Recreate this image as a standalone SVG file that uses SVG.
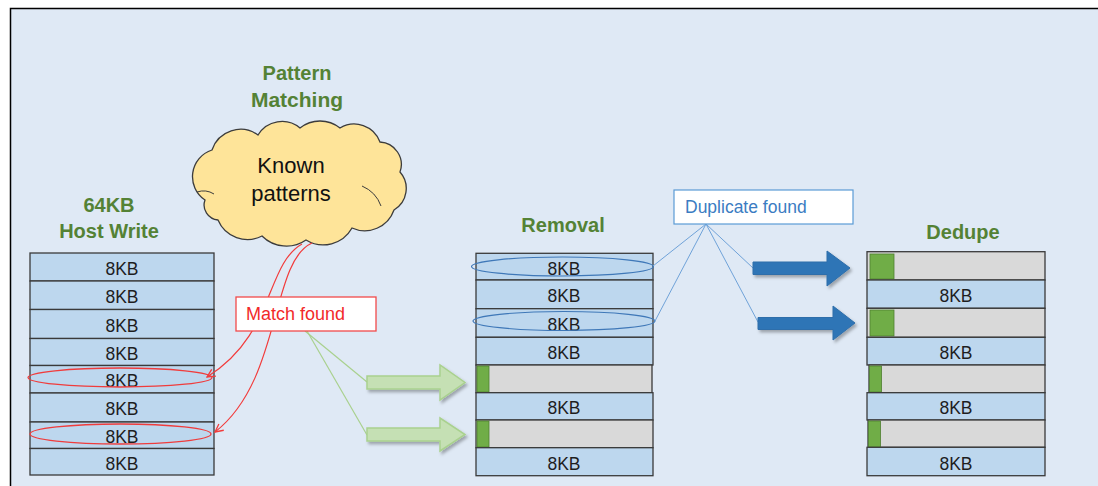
<svg xmlns="http://www.w3.org/2000/svg" width="1098" height="486" viewBox="0 0 1098 486">
  <defs>
    <style>
      .title { font-family: "Liberation Sans", Arial, sans-serif; font-weight: bold; fill: #548235; text-anchor: middle; }
      .cell-blue { fill: #bdd7ee; stroke: #3a3a3a; stroke-width: 1.3; }
      .cell-grey { fill: #d9d9d9; stroke: #3a3a3a; stroke-width: 1.3; }
      .bar { fill: #70ad47; stroke: #4f7f30; stroke-width: 0.8; }
      .kb { font-family: "Liberation Sans", Arial, sans-serif; font-size: 17.5px; fill: #1e1e1e; text-anchor: middle; }
      .red-ring { fill: none; stroke: #f03c3c; stroke-width: 1.3; }
      .blue-ring { fill: none; stroke: #3f78b8; stroke-width: 1.2; }
      .red-link { fill: none; stroke: #f23b3b; stroke-width: 1.2; }
      .green-link { fill: none; stroke: #a9d18e; stroke-width: 1.2; }
      .blue-link { fill: none; stroke: #6fa2d8; stroke-width: 1; }
      .green-arrow { fill: #c5e0b4; stroke: #a9d18e; stroke-width: 1.5; }
      .blue-arrow { fill: #2e75b6; stroke: #2e6eaa; stroke-width: 1; }
    </style>
    <marker id="open-red" viewBox="0 0 10 10" refX="9" refY="5" markerWidth="10" markerHeight="10" markerUnits="userSpaceOnUse" orient="auto">
      <path d="M1,1 L9,5 L1,9" fill="none" stroke="#f23b3b" stroke-width="1.3"/>
    </marker>
    <filter id="soft-shadow" x="-20%" y="-30%" width="150%" height="170%">
      <feDropShadow dx="2" dy="2.5" stdDeviation="1.5" flood-color="#000" flood-opacity="0.3"/>
    </filter>
  </defs>

  <!-- page and framed panel -->
  <rect x="0" y="0" width="1098" height="486" fill="#ffffff"/>
  <rect x="10.5" y="8.5" width="1100" height="490" fill="#dfe9f5" stroke="#000" stroke-width="1.5"/>

  <!-- cloud of known patterns -->
  <g id="known-patterns">
    <text class="title" x="297" y="80" font-size="20">Pattern</text>
    <text class="title" x="297" y="107" font-size="21">Matching</text>
    <path d="M 205 200 A 28 28 0 0 1 212 150 A 30 30 0 0 1 258 135 A 28 28 0 0 1 300 128 A 32 32 0 0 1 340 128 A 27.5 27.5 0 0 1 380 142 A 22.5 22.5 0 0 1 400 172 A 25 25 0 0 1 394 210 A 31 31 0 0 1 352 228 A 33 33 0 0 1 306 240 A 34.5 34.5 0 0 1 262 236 A 32 32 0 0 1 218 220 A 15 15 0 0 1 205 200 Z" fill="#fee499" stroke="#3c3c3c" stroke-width="1.3"/>
    <g fill="none" stroke="#3c3c3c" stroke-width="1">
      <path d="M 197 192 Q 206 189 214 194"/>
      <path d="M 362 186 Q 376 192 381 206"/>
    </g>
    <text font-family="'Liberation Sans', Arial, sans-serif" font-size="22" fill="#111" text-anchor="middle" x="291" y="173">Known</text>
    <text font-family="'Liberation Sans', Arial, sans-serif" font-size="22" fill="#111" text-anchor="middle" x="291" y="201">patterns</text>
  </g>

  <!-- 64KB host write: eight 8KB blocks -->
  <g id="host-write">
    <text class="title" x="109" y="212" font-size="20">64KB</text>
    <text class="title" x="109" y="238" font-size="20">Host Write</text>
    <rect class="cell-blue" x="30" y="253" width="184" height="28"/>
    <rect class="cell-blue" x="30" y="281" width="184" height="28.5"/>
    <rect class="cell-blue" x="30" y="309.5" width="184" height="29"/>
    <rect class="cell-blue" x="30" y="338.5" width="184" height="27"/>
    <rect class="cell-blue" x="30" y="365.5" width="184" height="27.5"/>
    <rect class="cell-blue" x="30" y="393" width="184" height="29"/>
    <rect class="cell-blue" x="30" y="422" width="184" height="26.5"/>
    <rect class="cell-blue" x="30" y="448.5" width="184" height="26.5"/>
    <text class="kb" x="122" y="275">8KB</text>
    <text class="kb" x="122" y="303">8KB</text>
    <text class="kb" x="122" y="332">8KB</text>
    <text class="kb" x="122" y="360">8KB</text>
    <text class="kb" x="122" y="387">8KB</text>
    <text class="kb" x="122" y="415">8KB</text>
    <text class="kb" x="122" y="443">8KB</text>
    <text class="kb" x="122" y="470">8KB</text>
    <ellipse class="red-ring" cx="120" cy="377.5" rx="92" ry="9.5"/>
    <ellipse class="red-ring" cx="120.5" cy="434" rx="90.5" ry="10"/>
  </g>

  <!-- removal stage -->
  <g id="removal">
    <text class="title" x="563" y="232" font-size="20">Removal</text>
    <rect class="cell-blue" x="476" y="253.3" width="177" height="26.7"/>
    <rect class="cell-blue" x="476" y="280" width="177" height="28.7"/>
    <rect class="cell-blue" x="476" y="308.7" width="177" height="28.6"/>
    <rect class="cell-blue" x="476" y="337.3" width="177" height="27.7"/>
    <rect class="cell-grey" x="476" y="365" width="176" height="27.7"/>
    <rect class="bar" x="477" y="366" width="12" height="26"/>
    <rect class="cell-blue" x="476" y="392.7" width="177" height="27.3"/>
    <rect class="cell-grey" x="476" y="420" width="177" height="27.7"/>
    <rect class="bar" x="477" y="421" width="12" height="26"/>
    <rect class="cell-blue" x="476" y="447.7" width="177" height="28"/>
    <text class="kb" x="564" y="275">8KB</text>
    <text class="kb" x="564" y="302">8KB</text>
    <text class="kb" x="564" y="331">8KB</text>
    <text class="kb" x="564" y="359">8KB</text>
    <text class="kb" x="564" y="414">8KB</text>
    <text class="kb" x="564" y="470">8KB</text>
    <ellipse class="blue-ring" cx="562.5" cy="266.5" rx="91" ry="9.5"/>
    <ellipse class="blue-ring" cx="564" cy="321" rx="91" ry="9.5"/>
  </g>

  <!-- dedupe stage -->
  <g id="dedupe">
    <text class="title" x="963" y="239" font-size="20">Dedupe</text>
    <rect class="cell-grey" x="867" y="251.7" width="178" height="28.3"/>
    <rect class="bar" x="870" y="254" width="24" height="25"/>
    <rect class="cell-blue" x="867" y="280" width="178" height="28.3"/>
    <rect class="cell-grey" x="867" y="308.3" width="178" height="29"/>
    <rect class="bar" x="870" y="310" width="24" height="26"/>
    <rect class="cell-blue" x="867" y="337.3" width="178" height="27.7"/>
    <rect class="cell-grey" x="869" y="365" width="176" height="27.7"/>
    <rect class="bar" x="869.5" y="366" width="12" height="26"/>
    <rect class="cell-blue" x="867" y="392.7" width="178" height="27.3"/>
    <rect class="cell-grey" x="868" y="420" width="177" height="27.3"/>
    <rect class="bar" x="868.5" y="421" width="12" height="26"/>
    <rect class="cell-blue" x="867" y="447.3" width="178" height="28.4"/>
    <text class="kb" x="956" y="302">8KB</text>
    <text class="kb" x="956" y="359">8KB</text>
    <text class="kb" x="956" y="414">8KB</text>
    <text class="kb" x="956" y="470">8KB</text>
  </g>

  <!-- connectors -->
  <g id="connectors">
    <path class="red-link" d="M 302 244 C 265 265, 275 335, 207 377" marker-end="url(#open-red)"/>
    <path class="red-link" d="M 312 243 C 270 262, 282 380, 215 432" marker-end="url(#open-red)"/>
    <line class="green-link" x1="305" y1="331" x2="367" y2="382"/>
    <line class="green-link" x1="307" y1="331" x2="367" y2="435"/>
    <line class="blue-link" x1="706" y1="224" x2="653" y2="266"/>
    <line class="blue-link" x1="706" y1="224" x2="655" y2="321"/>
    <line class="blue-link" x1="706" y1="224" x2="753" y2="268"/>
    <line class="blue-link" x1="706" y1="224" x2="758" y2="322"/>
  </g>

  <!-- callouts -->
  <g id="match-found">
    <rect x="236" y="297" width="140" height="34" fill="#ffffff" stroke="#f24a4a" stroke-width="1.3"/>
    <text x="246" y="320" font-family="'Liberation Sans', Arial, sans-serif" font-size="18" fill="#f22a2a">Match found</text>
  </g>
  <g id="duplicate-found">
    <rect x="674" y="190" width="179" height="34" fill="#ffffff" stroke="#5b9bd5" stroke-width="1.2"/>
    <text x="685" y="213" font-family="'Liberation Sans', Arial, sans-serif" font-size="17.5" fill="#3b7cc2">Duplicate found</text>
  </g>

  <!-- block arrows -->
  <g id="zero-arrows" filter="url(#soft-shadow)">
    <path class="green-arrow" d="M 367 376 L 440 376 L 440 365 L 465 382.5 L 440 400 L 440 389 L 367 389 Z"/>
    <path class="green-arrow" d="M 367 428 L 440 428 L 440 418 L 465 434.5 L 440 451 L 440 441 L 367 441 Z"/>
  </g>
  <g id="dedupe-arrows" filter="url(#soft-shadow)">
    <path class="blue-arrow" d="M 753 262 L 827 262 L 827 251 L 850 268 L 827 286 L 827 274.5 L 753 274.5 Z"/>
    <path class="blue-arrow" d="M 758 317.5 L 833 317.5 L 833 306 L 855 323 L 833 340 L 833 329.5 L 758 329.5 Z"/>
  </g>
</svg>
